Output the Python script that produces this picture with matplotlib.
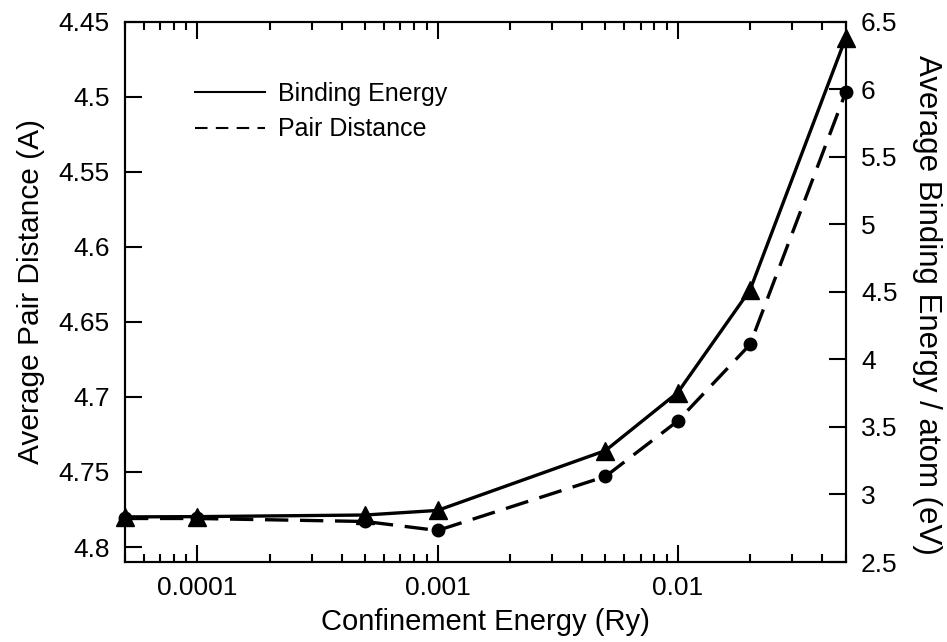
import numpy as np
import matplotlib
matplotlib.use('Agg')
import matplotlib.pyplot as plt
from matplotlib.ticker import FixedLocator, LogLocator, FormatStrFormatter, NullFormatter
from matplotlib.lines import Line2D

plt.rcParams['font.family'] = ['Liberation Sans', 'DejaVu Sans']

# confinement energy (Ry)
conf_energy = [5e-5, 1e-4, 5e-4, 1e-3, 5e-3, 1e-2, 2e-2, 5e-2]
# average pair distance (A), left axis
pair_dist = [4.781, 4.781, 4.783, 4.789, 4.753, 4.716, 4.665, 4.497]
# average binding energy per atom (eV), right axis
bind_energy = [2.834, 2.836, 2.848, 2.882, 3.325, 3.755, 4.515, 6.38]

x_ticks = [1e-4, 1e-3, 1e-2]
left_ticks = [4.45, 4.5, 4.55, 4.6, 4.65, 4.7, 4.75, 4.8]
right_ticks = [2.5, 3, 3.5, 4, 4.5, 5, 5.5, 6, 6.5]

fig = plt.figure(figsize=(9.47, 6.42), dpi=100)
ax = fig.add_axes([0.132, 0.1246, 0.761, 0.8414])
ax2 = ax.twinx()

ax.plot(conf_energy, pair_dist, color='black', lw=2.4, dashes=(7, 3.5),
        marker='o', ms=9, clip_on=False, zorder=3)
ax2.plot(conf_energy, bind_energy, color='black', lw=2.4, ls='-',
         marker='^', ms=13, clip_on=False, zorder=3)

ax.set_xscale('log')
ax.set_xlim(5e-5, 5e-2)
ax.set_ylim(4.81, 4.45)
ax2.set_ylim(2.5, 6.5)

ax.xaxis.set_major_locator(FixedLocator(x_ticks))
ax.xaxis.set_major_formatter(FormatStrFormatter('%g'))
ax.xaxis.set_minor_locator(LogLocator(base=10, subs=np.arange(2, 10)))
ax.xaxis.set_minor_formatter(NullFormatter())
ax.yaxis.set_major_locator(FixedLocator(left_ticks))
ax.yaxis.set_major_formatter(FormatStrFormatter('%g'))
ax2.yaxis.set_major_locator(FixedLocator(right_ticks))
ax2.yaxis.set_major_formatter(FormatStrFormatter('%g'))

ax.tick_params(axis='x', which='major', direction='in', length=12, width=1.5,
               top=True, labelsize=19, pad=10)
ax.tick_params(axis='x', which='minor', direction='in', length=6, width=1.5, top=True)
ax.tick_params(axis='y', which='major', direction='in', length=12, width=1.5,
               right=False, labelsize=19, pad=11)
ax2.tick_params(axis='y', which='major', direction='in', length=12, width=1.5,
                labelsize=19, pad=11)

for a in (ax, ax2):
    for s in a.spines.values():
        s.set_linewidth(1.5)

ax.set_xlabel('Confinement Energy (Ry)', fontsize=21, labelpad=6)
ax.set_ylabel('Average Pair Distance (A)', fontsize=21.5, labelpad=10)
ax2.set_ylabel('Average Binding Energy / atom (eV)', fontsize=22.5, rotation=270,
               va='center', ha='center')
ax2.yaxis.set_label_coords(1.113, 0.476)

handles = [Line2D([], [], color='black', lw=1.5, ls='-'),
           Line2D([], [], color='black', lw=1.5, dashes=(6, 4))]
ax2.legend(handles, ['Binding Energy', 'Pair Distance'], loc='upper left',
           bbox_to_anchor=(0.066, 0.93), frameon=False, fontsize=18,
           handlelength=2.8, handletextpad=0.5, labelspacing=0.45)

fig.savefig('out.png', dpi=100)
